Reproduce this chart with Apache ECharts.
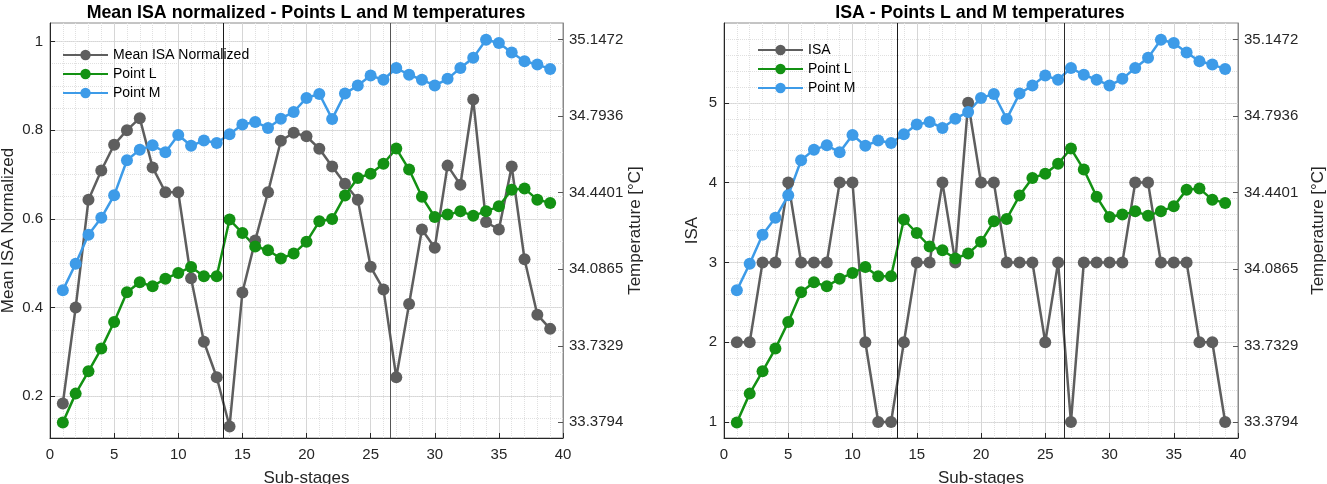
<!DOCTYPE html>
<html>
<head>
<meta charset="utf-8">
<script src="https://cdn.jsdelivr.net/npm/echarts@6/dist/echarts.min.js"></script>
<style>
    html, body { margin: 0; padding: 0; background: #fff; }
    #chart { width: 1327px; height: 484px; }
</style>
</head>
<body>
<div id="chart"></div>
<script>
// sub-stage numbers on the x axis
const stages = [1, 2, 3, 4, 5, 6, 7, 8, 9, 10, 11, 12, 13, 14, 15, 16, 17, 18, 19, 20,
    21, 22, 23, 24, 25, 26, 27, 28, 29, 30, 31, 32, 33, 34, 35, 36, 37, 38, 39]

// left chart: mean ISA normalized
const meanIsaNorm = [0.184, 0.400, 0.643, 0.709, 0.767, 0.800, 0.827, 0.716, 0.660, 0.660,
    0.466, 0.323, 0.243, 0.132, 0.434, 0.551, 0.660, 0.776, 0.794, 0.786,
    0.758, 0.718, 0.679, 0.643, 0.492, 0.441, 0.243, 0.408, 0.576, 0.535,
    0.720, 0.677, 0.869, 0.593, 0.576, 0.718, 0.509, 0.384, 0.352]

// right chart: ISA
const isaScore = [2, 2, 3, 3, 4, 3, 3, 3, 4, 4, 2, 1, 1, 2, 3, 3, 4, 3, 5, 4,
    4, 3, 3, 3, 2, 3, 1, 3, 3, 3, 3, 4, 4, 3, 3, 3, 2, 2, 1]

// temperatures [°C], same in both charts
const pointL = [33.379, 33.512, 33.615, 33.720, 33.843, 33.980, 34.026, 34.008, 34.043, 34.069,
    34.097, 34.054, 34.054, 34.316, 34.254, 34.192, 34.174, 34.136, 34.159, 34.213,
    34.308, 34.319, 34.427, 34.508, 34.528, 34.574, 34.644, 34.547, 34.421, 34.328,
    34.339, 34.354, 34.334, 34.354, 34.377, 34.454, 34.459, 34.408, 34.393]
const pointM = [33.989, 34.112, 34.246, 34.324, 34.428, 34.590, 34.639, 34.659, 34.627, 34.707,
    34.657, 34.681, 34.670, 34.710, 34.755, 34.767, 34.739, 34.782, 34.813, 34.878,
    34.896, 34.781, 34.898, 34.935, 34.981, 34.962, 35.016, 34.985, 34.962, 34.935,
    34.966, 35.016, 35.063, 35.147, 35.132, 35.088, 35.047, 35.032, 35.012]

// vertical separators between stages
const separators = [13.5, 26.5]

// tick labels
const normTicks = [0.2, 0.4, 0.6, 0.8, 1]
const isaTicks = [1, 2, 3, 4, 5]
const tempTicks = [33.3794, 33.7329, 34.0865, 34.4401, 34.7936, 35.1472]

const GRAY = '#5e5e5e'
const GREEN = '#139113'
const BLUE = '#3d9be8'
const TXT = '#262626'
const FONT = '"Liberation Sans", Arial, sans-serif'

function steps (from, to, step) {
    let out = []
    for (let v = from; v <= to + 1e-9; v += step) {
        out.push(Math.round(v * 1000) / 1000)
    }
    return out
}

function xAxisFor (gridIndex) {
    return {
        type: 'value',
        gridIndex: gridIndex,
        min: 0,
        max: 40,
        interval: 5,
        name: 'Sub-stages',
        nameLocation: 'middle',
        nameGap: 32,
        nameTextStyle: {fontSize: 17, color: TXT, fontFamily: FONT},
        axisLine: {lineStyle: {color: TXT, width: 1}},
        axisTick: {inside: true, length: 5, lineStyle: {color: TXT}},
        axisLabel: {fontSize: 15, color: TXT, margin: 9, fontFamily: FONT},
        splitLine: {show: true, lineStyle: {color: '#d6d6d6', width: 1}},
        minorTick: {show: false, splitNumber: 5},
        minorSplitLine: {show: true, lineStyle: {color: '#e0e0e0', type: 'dotted', width: 1}}
    }
}

function leftAxis (gridIndex, min, max, ticks, name, gap, fmt) {
    return {
        type: 'value',
        gridIndex: gridIndex,
        position: 'left',
        min: min,
        max: max,
        name: name,
        nameLocation: 'middle',
        nameGap: gap,
        nameRotate: 90,
        nameTextStyle: {fontSize: 17, color: TXT, fontFamily: FONT},
        axisLine: {show: true, lineStyle: {color: TXT, width: 1}},
        axisTick: {show: true, inside: true, length: 5, customValues: ticks, lineStyle: {color: TXT}},
        axisLabel: {customValues: ticks, fontSize: 15, color: TXT, margin: 7, fontFamily: FONT, formatter: fmt},
        splitLine: {show: true, lineStyle: {color: '#d6d6d6', width: 1}}
    }
}

// hidden axis, only for the dotted minor grid
function minorAxis (gridIndex, min, max, values) {
    return {
        type: 'value',
        gridIndex: gridIndex,
        position: 'left',
        min: min,
        max: max,
        axisLine: {show: false},
        axisTick: {show: false, customValues: values},
        axisLabel: {show: false, customValues: values},
        splitLine: {show: true, lineStyle: {color: '#e0e0e0', type: 'dotted', width: 1}}
    }
}

function tempAxis (gridIndex, gap) {
    return {
        type: 'value',
        gridIndex: gridIndex,
        position: 'right',
        min: 33.307,
        max: 35.224,
        name: 'Temperature [°C]',
        nameLocation: 'middle',
        nameGap: gap,
        nameRotate: 90,
        nameTextStyle: {fontSize: 17, color: TXT, fontFamily: FONT},
        axisLine: {show: true, lineStyle: {color: '#8a8a8a', width: 1}},
        axisTick: {show: true, inside: true, length: 5, customValues: tempTicks, lineStyle: {color: '#555'}},
        axisLabel: {
            customValues: tempTicks, fontSize: 15, color: TXT, margin: 6, fontFamily: FONT,
            formatter: function (v) { return v.toFixed(4) }
        },
        splitLine: {show: false}
    }
}

function lineSeries (name, xi, yi, values, color, marks) {
    let s = {
        name: name,
        type: 'line',
        xAxisIndex: xi,
        yAxisIndex: yi,
        data: stages.map(function (st, i) { return [st, values[i]] }),
        symbol: 'circle',
        symbolSize: 12,
        lineStyle: {color: color, width: 2.5},
        itemStyle: {color: color}
    }
    if (marks) {
        s.markLine = {
            silent: true,
            symbol: ['none', 'none'],
            label: {show: false},
            data: separators.map(function (v, i) {
                return {xAxis: v, lineStyle: {color: marks[i], type: 'solid', width: 1}}
            })
        }
    }
    return s
}

function legendFor (left, top, names) {
    return {
        orient: 'vertical',
        left: left,
        top: top,
        padding: 0,
        data: names,
        itemWidth: 45,
        itemHeight: 13,
        itemGap: 5,
        selectedMode: false,
        textStyle: {fontSize: 14, color: '#000', fontFamily: FONT}
    }
}

let myChart = echarts.init(document.getElementById('chart'))
myChart.setOption({
    animation: false,
    backgroundColor: '#fff',
    textStyle: {fontFamily: FONT},
    title: [
        {text: 'Mean ISA normalized - Points L and M temperatures', left: 306, top: 4, padding: 0, textAlign: 'center',
            textStyle: {fontSize: 17.8, fontWeight: 'bold', color: '#000', fontFamily: FONT}},
        {text: 'ISA - Points L and M temperatures', left: 980, top: 4, padding: 0, textAlign: 'center',
            textStyle: {fontSize: 17.8, fontWeight: 'bold', color: '#000', fontFamily: FONT}}
    ],
    legend: [
        legendFor(62, 48, ['Mean ISA Normalized', 'Point L', 'Point M']),
        legendFor(757, 43, ['ISA', 'Point L', 'Point M'])
    ],
    grid: [
        {left: 50, top: 23, width: 513, height: 415, outerBoundsMode: 'none', containLabel: false,
            show: true, borderColor: '#8a8a8a', borderWidth: 1, backgroundColor: '#fff'},
        {left: 724, top: 23, width: 514, height: 415, outerBoundsMode: 'none', containLabel: false,
            show: true, borderColor: '#8a8a8a', borderWidth: 1, backgroundColor: '#fff'}
    ],
    xAxis: [xAxisFor(0), xAxisFor(1)],
    yAxis: [
        leftAxis(0, 0.106, 1.0415, normTicks, 'Mean ISA Normalized', 33, function (v) { return String(Math.round(v * 10) / 10) }),
        minorAxis(0, 0.106, 1.0415, steps(0.15, 1.0, 0.05)),
        tempAxis(0, 57),
        leftAxis(1, 0.8, 6, isaTicks, 'ISA', 23, function (v) { return String(v) }),
        minorAxis(1, 0.8, 6, steps(1.0, 5.8, 0.2)),
        tempAxis(1, 72)
    ],
    series: [
        lineSeries('Mean ISA Normalized', 0, 0, meanIsaNorm, GRAY, ['#1a1a1a', '#555555']),
        lineSeries('Point L', 0, 2, pointL, GREEN),
        lineSeries('Point M', 0, 2, pointM, BLUE),
        lineSeries('ISA', 1, 3, isaScore, GRAY, ['#1a1a1a', '#2a2a2a']),
        lineSeries('Point L', 1, 5, pointL, GREEN),
        lineSeries('Point M', 1, 5, pointM, BLUE)
    ]
})
window.onresize = myChart.resize
</script>
</body>
</html>
